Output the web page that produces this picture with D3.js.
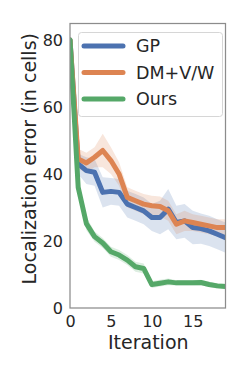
<!DOCTYPE html>
<html><head><meta charset="utf-8">
<script src="https://cdn.jsdelivr.net/npm/d3@7"></script>
<style>body{margin:0;background:#fff}svg{display:block}text{font-family:"DejaVu Sans",sans-serif;fill:#262626}</style>
</head><body>
<svg id="c" width="249" height="374"></svg>
<script>
const iterations = d3.range(0, 20);
const xTicks = [0, 5, 10, 15];
const yTicks = [0, 20, 40, 60, 80];
const seriesNames = ["GP", "DM+V/W", "Ours"];
const colors = ["#4c72b0", "#dd8452", "#55a868"];

const gpMean = [80, 43, 41, 40.5, 34.5, 34.8, 34.5, 31, 30, 29, 27, 27, 29.5, 25.5, 26, 24, 23.7, 23, 22, 21];
const gpLow  = [80, 40, 37, 36.5, 30, 30.8, 30.5, 27, 26, 25, 23, 22, 23.5, 20.5, 21, 19, 19.2, 18.5, 17.5, 16.5];
const gpHigh = [80, 46, 45, 44.5, 39, 38.8, 38.5, 35, 34, 33, 31, 32, 35.5, 30.5, 31, 29, 28.2, 27.5, 26.5, 25.5];

const dmMean = [80, 44.5, 43.3, 45, 47, 44, 40, 33, 32, 31, 30.5, 30.3, 29, 25, 26, 25.5, 25, 24.5, 24, 24];
const dmLow  = [80, 41.5, 40.3, 42, 42, 40, 36.5, 30, 29, 28, 27.5, 27.3, 26, 22, 23, 23, 22.5, 22, 21.5, 21.5];
const dmHigh = [80, 47.5, 46.3, 48, 52, 48, 43.5, 36, 35, 34, 33.5, 33.3, 32, 28, 29, 28, 27.5, 27, 26.5, 26.5];

const oursMean = [80, 36, 25.2, 21.3, 19.4, 16.8, 15.8, 14.3, 12.3, 11.8, 7, 7.4, 7.8, 7.5, 7.5, 7.5, 7.6, 7.0, 6.6, 6.4];
const oursLow  = [80, 34, 23.2, 19.8, 17.9, 15.3, 14.3, 12.8, 10.8, 10.3, 6, 6.4, 6.8, 6.7, 6.7, 6.7, 6.8, 6.2, 5.8, 5.6];
const oursHigh = [80, 38, 27.2, 22.8, 20.9, 18.3, 17.3, 15.8, 13.8, 13.3, 8, 8.4, 8.8, 8.3, 8.3, 8.3, 8.4, 7.8, 7.4, 7.2];

const series = [
  {name: seriesNames[0], mean: gpMean, low: gpLow, high: gpHigh, color: colors[0]},
  {name: seriesNames[1], mean: dmMean, low: dmLow, high: dmHigh, color: colors[1]},
  {name: seriesNames[2], mean: oursMean, low: oursLow, high: oursHigh, color: colors[2]}
];

const svg = d3.select("#c");
const L = 70, R = 225.5, T = 23.5, B = 308;
const x = d3.scaleLinear().domain([0, 19]).range([L, R]);
const y = d3.scaleLinear().domain([0, 84.9]).range([B, T]);

const g = svg.append("g");
svg.append("clipPath").attr("id", "pc").append("rect")
  .attr("x", L).attr("y", T).attr("width", R - L).attr("height", B - T);
const plot = g.append("g").attr("clip-path", "url(#pc)");

series.forEach(s => {
  const area = d3.area().x((d, i) => x(iterations[i])).y0((d, i) => y(s.low[i])).y1((d, i) => y(s.high[i]));
  plot.append("path").datum(s.mean).attr("d", area).attr("fill", s.color).attr("fill-opacity", 0.2);
});
series.forEach(s => {
  const line = d3.line().x((d, i) => x(iterations[i])).y(d => y(d));
  plot.append("path").datum(s.mean).attr("d", line).attr("fill", "none")
    .attr("stroke", s.color).attr("stroke-width", 5).attr("stroke-linejoin", "round").attr("stroke-linecap", "round");
});

// frame
g.append("rect").attr("x", L).attr("y", T).attr("width", R - L).attr("height", B - T)
  .attr("fill", "none").attr("stroke", "#8c8c8c").attr("stroke-width", 1.25);

// axes
const xAxis = d3.axisBottom(x).tickValues(xTicks).tickSize(0).tickPadding(8);
const xa = g.append("g").attr("transform", `translate(0,${B})`).call(xAxis);
xa.select(".domain").remove();
xa.selectAll("text").style("font-size", "16px").attr("fill", "#262626").attr("dy", "0.71em");

const yAxis = d3.axisLeft(y).tickValues(yTicks).tickSize(0).tickPadding(7);
const ya = g.append("g").attr("transform", `translate(${L},0)`).call(yAxis);
ya.select(".domain").remove();
ya.selectAll("text").style("font-size", "16px").attr("fill", "#262626");

g.append("text").attr("x", (L + R) / 2 + 0.5).attr("y", 349).attr("text-anchor", "middle")
  .style("font-size", "19px").text("Iteration");
g.append("text").attr("transform", `translate(36,${(T + B) / 2 - 7}) rotate(-90)`).attr("text-anchor", "middle")
  .style("font-size", "19px").text("Localization error (in cells)");

// legend
const lg = g.append("g");
lg.append("rect").attr("x", 78.5).attr("y", 32.5).attr("width", 144).attr("height", 84).attr("rx", 3)
  .attr("fill", "#fff").attr("fill-opacity", 0.8).attr("stroke", "#d6d6d6").attr("stroke-width", 1);
series.forEach((s, i) => {
  const yy = 46 + i * 26.5;
  lg.append("line").attr("x1", 84).attr("x2", 123).attr("y1", yy).attr("y2", yy)
    .attr("stroke", s.color).attr("stroke-width", 5).attr("stroke-linecap", "round");
  lg.append("text").attr("x", 136).attr("y", yy).attr("dy", "0.36em").style("font-size", "17.5px").text(s.name);
});
</script>
</body></html>
